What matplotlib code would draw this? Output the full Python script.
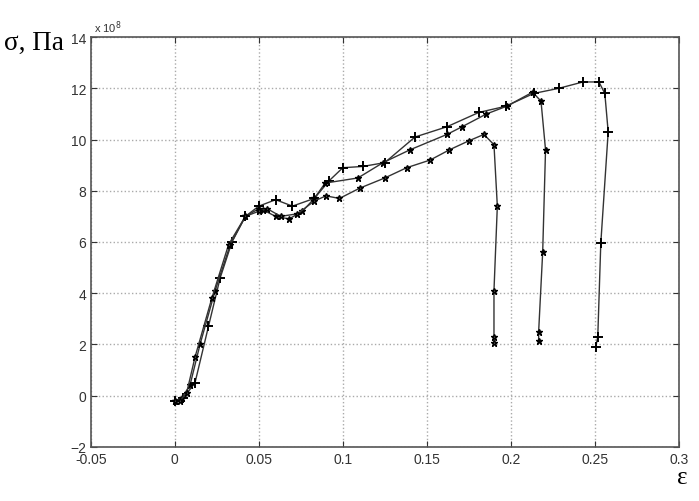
import matplotlib
matplotlib.use("Agg")
import matplotlib.pyplot as plt
import numpy as np

# strain / stress (x 1e8 Pa)
eps_b = [0.0, 0.005, 0.012, 0.02, 0.027, 0.034, 0.042, 0.05, 0.06, 0.07, 0.083, 0.092,
         0.1, 0.112, 0.125, 0.143, 0.162, 0.181, 0.197, 0.2136, 0.2285, 0.243, 0.2525,
         0.256, 0.258, 0.2536, 0.2518, 0.2506]
sig_b = [-0.2, -0.1, 0.5, 2.7, 4.6, 6.0, 7.0, 7.4, 7.65, 7.4, 7.7, 8.4,
         8.9, 8.95, 9.1, 10.1, 10.5, 11.06, 11.3, 11.8, 12.0, 12.25, 12.25,
         11.8, 10.3, 5.95, 2.3, 1.9]

eps_c = [0.0, 0.004, 0.009, 0.015, 0.024, 0.033, 0.042, 0.05, 0.0525, 0.06, 0.068, 0.076,
         0.083, 0.0895, 0.109, 0.124, 0.14, 0.162, 0.171, 0.1855, 0.1975, 0.213,
         0.218, 0.2207, 0.219, 0.2166, 0.2166]
sig_c = [-0.2, -0.1, 0.4, 2.0, 4.1, 5.9, 7.0, 7.3, 7.25, 7.0, 6.9, 7.2,
         7.7, 8.3, 8.5, 9.1, 9.6, 10.2, 10.5, 11.0, 11.3, 11.85,
         11.5, 9.6, 5.6, 2.5, 2.15]

eps_a = [0.0, 0.003, 0.007, 0.012, 0.022, 0.032, 0.042, 0.05, 0.055, 0.063, 0.073, 0.083,
         0.09, 0.098, 0.11, 0.125, 0.138, 0.152, 0.1635, 0.175, 0.184, 0.19,
         0.192, 0.19, 0.19, 0.19]
sig_a = [-0.2, -0.2, 0.1, 1.5, 3.8, 5.9, 7.0, 7.2, 7.3, 7.0, 7.1, 7.6,
         7.8, 7.7, 8.1, 8.5, 8.9, 9.2, 9.6, 9.95, 10.2, 9.8,
         7.4, 4.1, 2.3, 2.05]

xticks = [-0.05, 0, 0.05, 0.1, 0.15, 0.2, 0.25, 0.3]
xticklabels = ["-0.05", "0", "0.05", "0.1", "0.15", "0.2", "0.25", "0.3"]
yticks = [-2, 0, 2, 4, 6, 8, 10, 12, 14]

fig = plt.figure(figsize=(6.99, 5.02), dpi=100)
ax = fig.add_axes([0.130, 0.108, 0.841, 0.816])

line_col = "#333333"
ax.plot(eps_b, sig_b, color=line_col, lw=1.0, marker="+", ms=7, mew=1.4, mec="black")
ax.plot(eps_c, sig_c, color=line_col, lw=1.0, marker="*", ms=5, mec="black", mfc="black")
ax.plot(eps_a, sig_a, color=line_col, lw=1.0, marker="*", ms=5, mec="black", mfc="#444444")

ax.set_xlim(-0.05, 0.3)
ax.set_ylim(-2, 14)
ax.set_xticks(xticks)
ax.set_xticklabels(xticklabels)
ax.set_yticks(yticks)
ax.grid(True, color="#aaaaaa", linestyle=":", linewidth=1.0)
ax.tick_params(direction="in", top=True, right=True, length=4, labelsize=10,
               colors="#333333")
for lab in ax.get_xticklabels() + ax.get_yticklabels():
    lab.set_family("Liberation Sans")
for sp in ax.spines.values():
    sp.set_color("#555555")
    sp.set_linewidth(1.2)

fig.text(0.135, 0.935, r"x 10$^8$", fontsize=8, color="#333333", family="Liberation Sans")
fig.text(0.006, 0.90, "σ, Па", fontsize=19.5, family="Liberation Serif")
fig.text(0.976, 0.048, "ε", fontsize=18, family="Liberation Serif", ha="center", va="center")

fig.savefig("out.png", dpi=100)
